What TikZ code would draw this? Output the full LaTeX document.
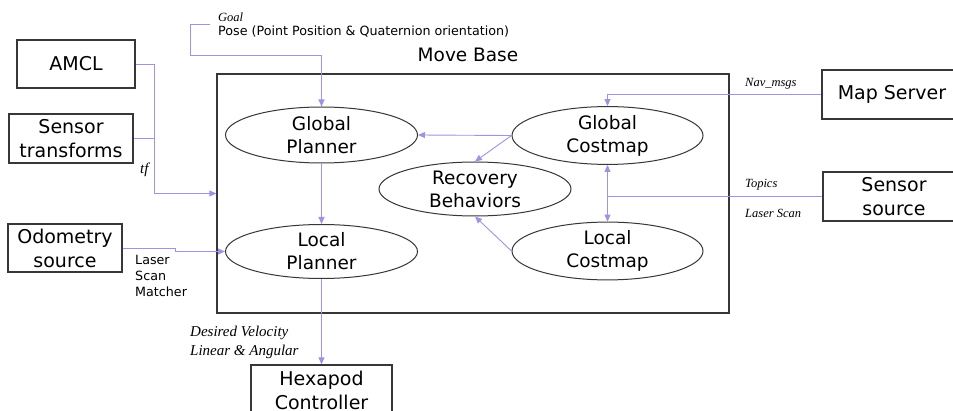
\documentclass[tikz,border=0pt]{standalone}
\usepackage{fontspec}
\setmainfont{DejaVu Sans}
\newfontfamily\serfam{Liberation Serif}
\usetikzlibrary{arrows.meta,shapes.geometric}
\definecolor{lin}{RGB}{165,145,225}
\definecolor{brd}{RGB}{55,55,55}
\begin{document}
\begin{tikzpicture}[x=1pt,y=-1pt,
  box/.style={draw=brd,line width=1.3pt,inner sep=0pt,align=center,font=\fontsize{19}{24}\selectfont},
  ell/.style={draw=brd,line width=1pt,ellipse,inner sep=0pt,align=center,font=\fontsize{18.5}{23}\selectfont},
  conn/.style={draw=lin,line width=0.9pt},
  arr/.style={conn,-{Triangle[length=7pt,width=6pt]}},
  lab/.style={font=\serfam\itshape\fontsize{12.5}{19}\selectfont,inner sep=0pt,anchor=west,align=left},
  blab/.style={font=\serfam\itshape\fontsize{15}{19}\selectfont,inner sep=0pt,anchor=west,align=left},
  slab/.style={font=\fontsize{12.7}{16}\selectfont,inner sep=0pt,anchor=west,align=left}]
\useasboundingbox (0,0) rectangle (953,411);
\clip (0,0) rectangle (953,411);
\fill[white] (0,0) rectangle (953,411);
% main container
\node[draw=brd,line width=1.3pt,minimum width=512pt,minimum height=239pt,inner sep=0pt] (mb) at (473,193.5) {};
\node[font=\fontsize{18.5}{22}\selectfont] (mbl) at (468,55) {Move Base};
% boxes
\node[box,minimum width=118pt,minimum height=48pt] (amcl) at (76,64) {AMCL};
\node[box,minimum width=124pt,minimum height=49pt] (st) at (71,138.5) {Sensor\\transforms};
\node[box,minimum width=114pt,minimum height=48pt] (odo) at (65,248) {Odometry\\source};
\node[box,minimum width=141pt,minimum height=50pt] (hex) at (321.5,390) {Hexapod\\Controller};
\node[box,minimum width=140pt,minimum height=49pt] (map) at (892,94.5) {Map Server};
\node[box,minimum width=142pt,minimum height=49pt] (ss) at (894,196.5) {Sensor\\source};
% ellipses
\node[ell,minimum width=192pt,minimum height=56pt] (gp) at (321.5,135) {Global\\Planner};
\node[ell,minimum width=192pt,minimum height=54pt] (lp) at (321.5,251.5) {Local\\Planner};
\node[ell,minimum width=191pt,minimum height=55pt] (gc) at (607.5,135.5) {Global\\Costmap};
\node[ell,minimum width=191pt,minimum height=54pt] (lc) at (607.5,251) {Local\\Costmap};
\node[ell,minimum width=192pt,minimum height=54pt] (rb) at (475,189) {Recovery\\Behaviors};
% labels
\node[lab] (goal) at (218,17) {Goal};
\node[slab] (pose) at (218,32) {Pose (Point Position \& Quaternion orientation)};
\node[blab] (tf) at (140,170) {tf};
\node[slab] (lsm) at (135,276) {Laser\\Scan\\Matcher};
\node[blab] (dv) at (190,342.5) {Desired Velocity\\Linear \& Angular};
\node[lab] (nav) at (745,84) {Nav\_msgs};
\node[lab] (top) at (745,185) {Topics};
\node[lab] (lsc) at (745,213) {Laser Scan};
% connectors
\coordinate (g0) at (210,24);
\draw[arr] (g0) -- (190,24) -- (190,55) -| (gp.north);
\coordinate (j1) at (154,138.5);
\draw[arr] (amcl.east) -- (154,64) -- (154,193.5) -- (mb.west);
\draw[conn] (st.east) -- (j1);
\draw[arr] (odo.east) -- (175,248) -- (175,251.5) -- (lp.west);
\draw[arr] (map.west) -| (gc.north);
\coordinate (j2) at (607.5,196.5);
\draw[conn] (ss.west) -- (j2);
\draw[arr] (j2) -- (gc.south);
\draw[arr] (j2) -- (lc.north);
\draw[arr] (gc.west) -- (gp.east);
\draw[arr] (gc.west) -- (rb.north);
\draw[arr] (lc.west) -- (rb.south);
\draw[arr] (gp.south) -- (lp.north);
\draw[arr] (lp.south) -- (hex.north);
\end{tikzpicture}
\end{document}
